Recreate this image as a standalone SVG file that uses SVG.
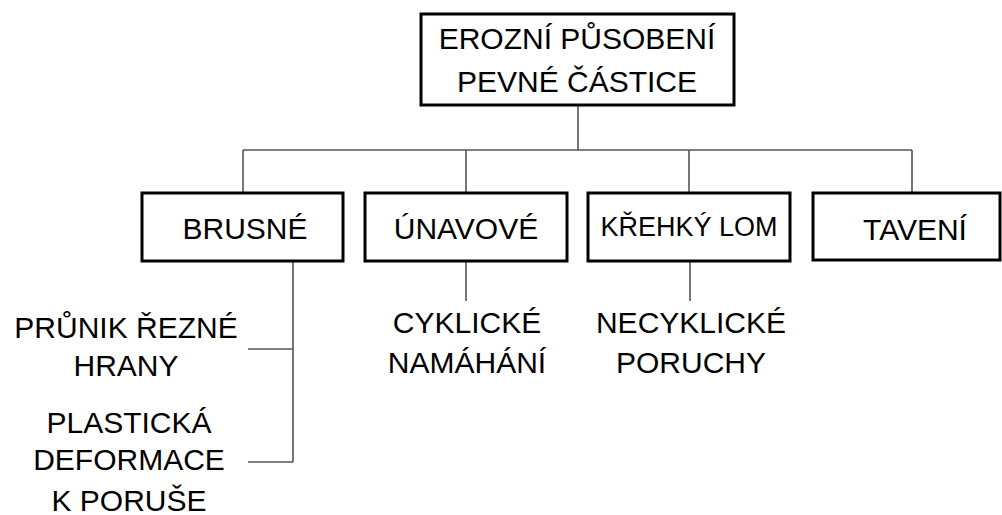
<svg xmlns="http://www.w3.org/2000/svg" width="1002" height="515" viewBox="0 0 1002 515">
<style>
.box{fill:#fff;stroke:#000;stroke-width:3}
.t{font-family:"Liberation Sans",Arial,sans-serif;font-size:30px;fill:#000;text-anchor:middle}
.c{fill:none;stroke:#555;stroke-width:1.6}
</style>
<rect width="1002" height="515" fill="#fff"/>
<g id="connectors">
<path class="c" d="M578 105V150M243 150H912M243 150V193M466 150V193M689 150V193M912 150V193"/>
<path class="c" d="M293 261V462M248 349H293M248 462H293"/>
<path class="c" d="M466 261V301M690 261V301"/>
</g>
<g id="root">
<rect class="box" x="421" y="14" width="313" height="91"/>
<text class="t" x="577" y="49">EROZNÍ PŮSOBENÍ</text>
<text class="t" x="577" y="92">PEVNÉ ČÁSTICE</text>
</g>
<g id="brusne">
<rect class="box" x="142" y="193" width="201" height="68"/>
<text class="t" x="245" y="239">BRUSNÉ</text>
</g>
<g id="unavove">
<rect class="box" x="365" y="193" width="202" height="68"/>
<text class="t" x="466" y="239">ÚNAVOVÉ</text>
</g>
<g id="krehky">
<rect class="box" x="588" y="193" width="202" height="68"/>
<text class="t" x="689" y="236" style="font-size:27px">KŘEHKÝ LOM</text>
</g>
<g id="taveni">
<rect class="box" x="813" y="193" width="187" height="67"/>
<text class="t" x="915" y="240">TAVENÍ</text>
</g>
<g id="prunik">
<text class="t" x="126" y="338">PRŮNIK ŘEZNÉ</text>
<text class="t" x="126" y="376">HRANY</text>
</g>
<g id="plasticka">
<text class="t" x="129" y="433">PLASTICKÁ</text>
<text class="t" x="129" y="470">DEFORMACE</text>
<text class="t" x="129" y="511">K PORUŠE</text>
</g>
<g id="cyklicke">
<text class="t" x="467" y="333">CYKLICKÉ</text>
<text class="t" x="467" y="373">NAMÁHÁNÍ</text>
</g>
<g id="necyklicke">
<text class="t" x="691" y="333">NECYKLICKÉ</text>
<text class="t" x="691" y="373">PORUCHY</text>
</g>
</svg>
